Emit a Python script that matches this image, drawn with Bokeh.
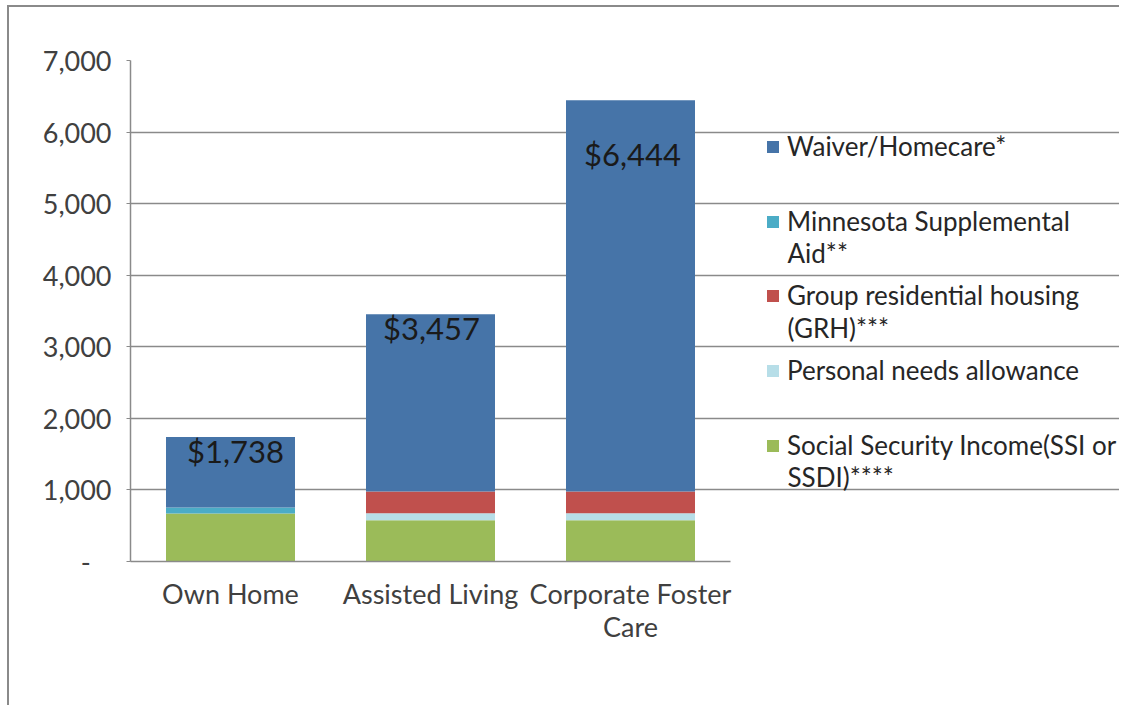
from bokeh.plotting import figure
from bokeh.models import (ColumnDataSource, Range1d, FixedTicker, Legend, LegendItem,
                          NumeralTickFormatter, Label)
from bokeh.core.properties import value
from bokeh.embed import file_html
from bokeh.resources import INLINE

# ---- data ----
categories = ["Own Home", "Assisted Living", "Corporate Foster Care"]
category_labels = ["Own Home", "Assisted Living", "Corporate Foster\nCare"]
ssi = [670, 577, 577]
personal_needs = [0, 97, 97]
grh = [0, 303, 303]
msa = [84, 0, 0]
waiver = [984, 2479, 5466]
totals = [1738, 3457, 6444]
total_labels = ["$1,738", "$3,457", "$6,444"]
y_ticks = [0, 1000, 2000, 3000, 4000, 5000, 6000, 7000]

series_keys = ["ssi", "pna", "grh", "msa", "waiver"]
series_names = [
    "Social Security Income(SSI or\nSSDI)****",
    "Personal needs allowance",
    "Group residential housing\n(GRH)***",
    "Minnesota Supplemental\nAid**",
    "Waiver/Homecare*",
]
colors = ["#9BBB59", "#B7DEE8", "#C0504D", "#4BACC6", "#4674A8"]

# label nudges (pixels)
label_dx = [5, 1, 2]
label_dy = [-5, -5, 35]

FONT = "Lato"
NB = "\u00a0"
xpos = [i + 0.5 for i in range(len(categories))]
source = ColumnDataSource(dict(
    x=xpos, ssi=ssi, pna=personal_needs, grh=grh, msa=msa, waiver=waiver,
    total=totals, label=total_labels, dx=label_dx, dy=label_dy,
))

p = figure(width=1112, height=700, x_range=Range1d(0, 4.955), y_range=Range1d(0, 7000),
           output_backend="svg", toolbar_location=None,
           min_border_left=121, min_border_right=0, min_border_top=53, min_border_bottom=146)
p.outline_line_color = None
p.styles = {"border-left": "2px solid #8a8a8a", "border-top": "2px solid #8a8a8a",
            "margin-left": "7px", "margin-top": "5px"}

rs = p.vbar_stack(series_keys, x="x", width=0.645, color=colors, line_width=0, source=source)

p.text(x="x", y="total", text="label", x_offset="dx", y_offset="dy", source=source,
       text_align="center", text_baseline="top", text_font=value(FONT),
       text_font_size="31px", text_color="#1a1a1a")

# ---- legend: one legend per entry, equal slot heights (as in Excel) ----
LEGEND_X = 635          # px from frame left
Y_CENTER0 = 117         # px from frame bottom: centre of first line of lowest entry
STEP = 74.75            # slot height
ITEM_HALF = 17          # half of a one-line legend item height
LINE_GAP = 32           # distance between wrapped lines
GLYPH, STANDOFF = 15, 7
LEG_SIZE = "26px"
LEG_COLOR = "#262626"

for k, (n, r) in enumerate(zip(series_names, rs)):
    lines = n.split("\n")
    yc = Y_CENTER0 + k * STEP
    lg = Legend(items=[LegendItem(label=value(lines[0]), renderers=[r])],
                location=(LEGEND_X, round(yc - ITEM_HALF)),
                glyph_width=GLYPH, glyph_height=GLYPH, label_standoff=STANDOFF,
                spacing=0, padding=0, margin=0,
                border_line_color=None, background_fill_alpha=0,
                label_text_font=FONT, label_text_font_size=LEG_SIZE, label_text_line_height=1.3,
                label_text_color=LEG_COLOR)
    p.add_layout(lg, "center")
    for j, extra in enumerate(lines[1:], 1):
        p.add_layout(Label(x=LEGEND_X + GLYPH + STANDOFF, y=round(yc - j * LINE_GAP),
                           x_units="screen", y_units="screen", text=extra,
                           text_align="left", text_baseline="middle",
                           text_font=FONT, text_font_size=LEG_SIZE, text_color=LEG_COLOR))

# ---- axes ----
p.yaxis.ticker = FixedTicker(ticks=y_ticks)
p.yaxis.formatter = NumeralTickFormatter(format="0,0")
p.yaxis.major_label_overrides = {0: "-" + NB * 3}
p.yaxis.major_tick_in = 0
p.yaxis.major_tick_out = 4
p.yaxis.minor_tick_line_color = None
p.yaxis.major_label_standoff = 15

p.xaxis.ticker = FixedTicker(ticks=xpos)
p.xaxis.major_label_overrides = {x: lab for x, lab in zip(xpos, category_labels)}
p.xaxis.bounds = (0, len(categories))
p.xaxis.minor_tick_line_color = None
p.xaxis.major_label_standoff = 9
p.xaxis.major_label_text_line_height = 1.0

for ax in (p.xaxis, p.yaxis):
    ax.axis_line_color = "#8a8a8a"
    ax.axis_line_width = 1.5
    ax.major_tick_line_color = "#8a8a8a"
    ax.major_label_text_font = FONT
    ax.major_label_text_font_size = "27px"
    ax.major_label_text_color = "#404040"
p.xaxis.major_tick_line_color = None

p.xgrid.visible = False
p.ygrid.grid_line_color = "#8a8a8a"
p.ygrid.grid_line_width = 1.5
p.ygrid.bounds = (0, len(categories))
p.ygrid.ticker = FixedTicker(ticks=y_ticks)

open("out.html", "w").write(file_html(p, INLINE))
